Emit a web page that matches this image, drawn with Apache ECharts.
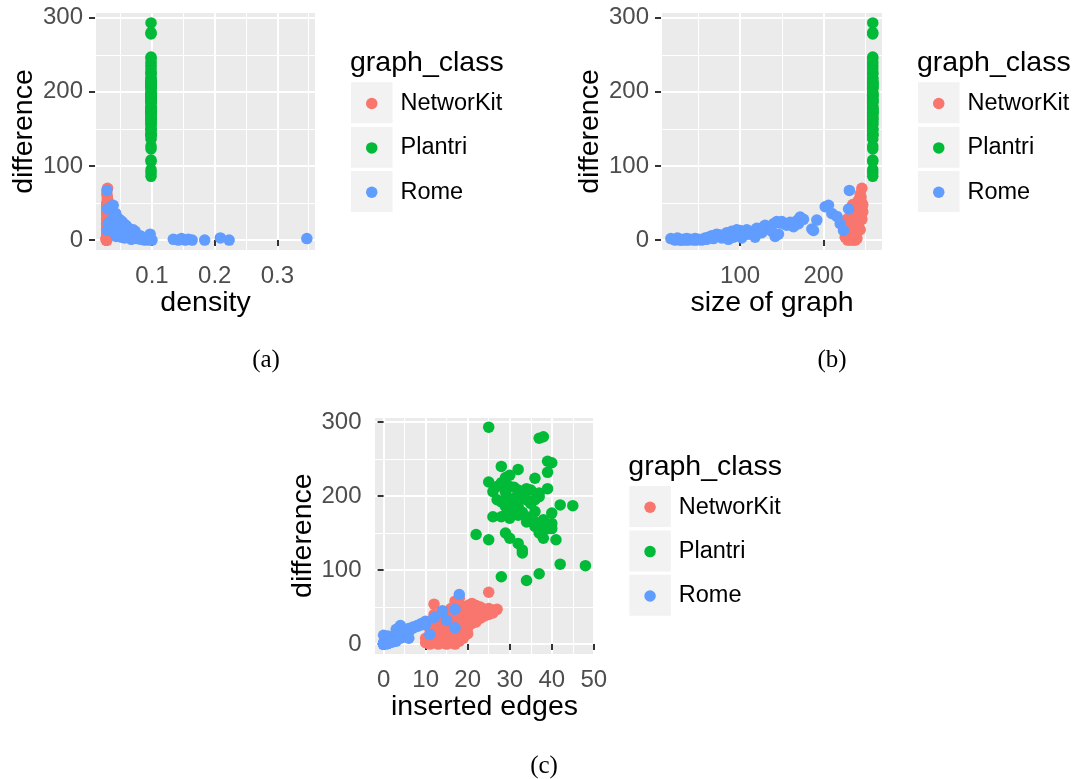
<!DOCTYPE html>
<html><head><meta charset="utf-8">
<script src="https://cdn.jsdelivr.net/npm/echarts@6/dist/echarts.min.js"></script>
<style>html,body{margin:0;padding:0;background:#fff}#c{width:1073px;height:779px}</style>
</head><body><div id="c"></div>
<script>
// ---------------- data ----------------
const classes = ['NetworKit', 'Plantri', 'Rome'];
const classColors = ['#F8766D', '#00BA38', '#619CFF'];

// NetworKit graphs (one entry per graph)
const netInserted = [10,10,11,11,11,12,12,12,12,13,13,13,13,14,14,14,14,15,15,15,15,15,16,16,16,16,17,17,17,17,18,18,18,18,18,19,19,19,19,20,20,20,20,21,21,21,22,22,22,23,23,24,24,25,25,25,26,26,27,19,20,12,16,21,23];
const netDiff     = [2,8,0,12,20,3,54,28,40,0,6,15,33,2,10,22,36,0,4,18,28,42,2,12,25,38,0,8,30,58,4,20,35,45,62,15,28,40,50,22,33,45,52,28,38,48,30,40,52,35,44,38,47,70,40,48,42,46,47,8,14,18,48,55,50];
const netSize     = [228,230,232,229,231,236,242,233,238,238,234,227,235,240,237,230,236,236,232,242,228,240,234,240,236,233,229,239,241,245,226,234,243,237,244,237,246,239,242,231,245,241,243,240,247,235,242,244,245,244,246,246,243,246,239,247,244,242,245,236,244,232,246,244,240];
const netDensity  = [0.0275,0.028,0.027,0.029,0.028,0.0275,0.029,0.028,0.0285,0.027,0.028,0.0285,0.029,0.027,0.028,0.0275,0.0285,0.028,0.0275,0.029,0.028,0.0285,0.027,0.028,0.0285,0.028,0.0275,0.028,0.029,0.0285,0.028,0.0285,0.028,0.029,0.028,0.0275,0.028,0.0285,0.029,0.028,0.0285,0.028,0.029,0.028,0.0285,0.028,0.029,0.028,0.0285,0.028,0.029,0.0285,0.028,0.029,0.028,0.0285,0.028,0.029,0.0285,0.028,0.0285,0.029,0.028,0.029,0.0285];

// Plantri graphs: all share one density and one size
const plantriDensity = 0.0984;
const plantriSize = 259;
const plantriInserted = [25,37,38,28,32,39,40,39,25,36,26,28,30,32,33,34,35,37,37,39,29,30,28,27,29,31,34,35,36,27,28,29,30,31,32,45,42,26,28,29,30,32,34,36,38,40,40,29,31,33,31,36,37,39,40,34,36,22,25,29,30,32,33,33,38,41,37,42,48,28,34,37];
const plantriDiff     = [293,278,280,240,236,247,245,232,219,224,206,215,213,208,199,210,208,204,199,210,225,228,218,213,205,212,195,190,195,195,192,195,190,197,186,187,188,172,172,174,170,174,172,179,168,163,177,186,182,178,177,159,161,156,156,165,165,148,141,150,143,136,127,123,143,141,150,108,106,91,86,95];

// Rome graphs
const romeSize     = [17,22,25,28,30,32,34,36,38,40,44,46,50,54,58,62,66,70,72,76,80,84,88,90,94,96,100,104,108,112,116,120,124,128,130,134,136,140,142,144,148,150,154,156,160,164,168,170,172,176,186,188,192,202,206,210,216,220,224,230,231,48,60,68,78,86,92,98,102,110,118,126,138,146];
const romeDensity  = [0.347,0.223,0.209,0.184,0.164,0.158,0.153,0.147,0.142,0.134,0.100,0.097,0.092,0.088,0.085,0.080,0.081,0.075,0.097,0.072,0.070,0.068,0.066,0.073,0.062,0.070,0.057,0.064,0.060,0.052,0.050,0.062,0.058,0.060,0.058,0.054,0.048,0.055,0.043,0.052,0.046,0.033,0.046,0.036,0.050,0.035,0.045,0.040,0.044,0.047,0.033,0.032,0.049,0.035,0.038,0.042,0.040,0.030,0.029,0.029,0.028,0.095,0.082,0.076,0.071,0.067,0.063,0.059,0.056,0.054,0.051,0.047,0.044,0.042];
const romeInserted = [0,0,1,0,0,1,0,1,0,1,0,1,1,0,1,2,2,1,2,3,2,1,2,0,1,4,3,2,5,4,3,5,4,6,4,6,4,7,2,8,7,4,6,3,8,6,9,7,10,9,5,4,10,14,17,12,15,17,11,14,18,0,1,1,2,1,3,2,2,4,2,5,4,6];
const romeDiff     = [2,0,3,0,0,1,0,2,0,1,0,2,1,0,3,4,6,5,8,7,6,10,9,12,11,14,13,10,14,12,9,16,15,18,20,17,14,22,5,25,23,25,21,20,24,18,26,22,31,28,15,13,27,45,47,36,32,22,13,42,67,0,1,2,3,1,4,6,3,8,4,10,12,8];

// axes: ranges (with ggplot expansion) and tick labels
const diffRange = [-14.7, 307.7];
const densityRange = [0.009, 0.3616];
const sizeRange = [5.2, 271.3];
const insertedRange = [-2.4, 50.4];
const diffTicks = [0, 100, 200, 300];
const densityTicks = [0.1, 0.2, 0.3];
const sizeTicks = [100, 200];
const insertedTicks = [0, 10, 20, 30, 40, 50];

// ---------------- layout ----------------
const SANS = 'Liberation Sans';
const TICK_FS = 24, TITLE_FS = 28.5;
const panels = [
  {grid:{left:95, top:12, width:221, height:239}, xRange:densityRange, xTicks:densityTicks, xMinorSplit:7, xMajorSplit:4,
   xName:'density', legend:{x:351, y:82.3}, caption:{text:'(a)', x:266, y:360}},
  {grid:{left:661, top:12, width:222, height:239}, xRange:sizeRange, xTicks:sizeTicks, xMinorSplit:5, xMajorSplit:3,
   xName:'size of graph', legend:{x:918, y:82.3}, caption:{text:'(b)', x:832, y:360}},
  {grid:{left:373.5, top:416.3, width:222, height:238.7}, xRange:insertedRange, xTicks:insertedTicks, xMinorSplit:10, xMajorSplit:5,
   xName:'inserted edges', legend:{x:629.3, y:486}, caption:{text:'(c)', x:544, y:766}}
];

function pairs(xs, ys) { return ys.map((y, i) => [Array.isArray(xs) ? xs[i] : xs, y]); }
const panelData = [
  [pairs(netDensity, netDiff), pairs(plantriDensity, plantriDiff), pairs(romeDensity, romeDiff)],
  [pairs(netSize, netDiff), pairs(plantriSize, plantriDiff), pairs(romeSize, romeDiff)],
  [pairs(netInserted, netDiff), pairs(plantriInserted, plantriDiff), pairs(romeInserted, romeDiff)]
];

const grid = [], xAxis = [], yAxis = [], series = [], legend = [], graphic = [];
const KEY = 41, KEY_STEP = 44.4, DOT = 11.5;
const hidden = {axisLine:{show:false}, axisTick:{show:false}, axisLabel:{show:false}};

function gridAxis(gi, range, split, width, z, pos) {
  return Object.assign({gridIndex:gi, type:'value', min:range[0], max:range[1], splitNumber:split, position:pos, z:z,
    splitLine:{show:true, lineStyle:{color:'#FFFFFF', width:width}}}, hidden);
}

panels.forEach((p, gi) => {
  grid.push(Object.assign({show:true, backgroundColor:'#EBEBEB', borderWidth:0, z:0}, p.grid));
  // x: minor grid, major grid, labelled axis
  xAxis.push(gridAxis(gi, p.xRange, p.xMinorSplit, 1, 1, 'top'));
  xAxis.push(gridAxis(gi, p.xRange, p.xMajorSplit, 2, 1, 'top'));
  xAxis.push({gridIndex:gi, type:'value', min:p.xRange[0], max:p.xRange[1], splitNumber:p.xMajorSplit, position:'bottom', z:2,
    axisLine:{show:false},
    axisTick:{show:true, length:6, lineStyle:{color:'#333333', width:2}, customValues:p.xTicks},
    axisLabel:{show:true, margin:13, color:'#4D4D4D', fontSize:TICK_FS, fontFamily:SANS, customValues:p.xTicks},
    splitLine:{show:false},
    name:p.xName, nameLocation:'middle', nameGap:37,
    nameTextStyle:{color:'#000', fontSize:TITLE_FS, fontFamily:SANS}});
  // y
  yAxis.push(gridAxis(gi, diffRange, 6, 1, 1, 'right'));
  yAxis.push(gridAxis(gi, diffRange, 3, 2, 1, 'right'));
  yAxis.push({gridIndex:gi, type:'value', min:diffRange[0], max:diffRange[1], splitNumber:3, position:'left', z:2,
    axisLine:{show:false},
    axisTick:{show:true, length:6, lineStyle:{color:'#333333', width:2}, customValues:diffTicks},
    axisLabel:{show:true, margin:12, color:'#4D4D4D', fontSize:TICK_FS, fontFamily:SANS, customValues:diffTicks},
    splitLine:{show:false},
    name:'difference', nameLocation:'middle', nameGap:56,
    nameTextStyle:{color:'#000', fontSize:TITLE_FS, fontFamily:SANS}});

  classes.forEach((c, ci) => {
    series.push({type:'scatter', name:c, xAxisIndex:gi*3+2, yAxisIndex:gi*3+2, data:panelData[gi][ci],
      symbol:'circle', symbolSize:DOT, itemStyle:{color:classColors[ci], opacity:1}, z:3, silent:true,
      emphasis:{disabled:true}});
  });

  // legend key backgrounds
  classes.forEach((c, ci) => {
    graphic.push({type:'rect', z:-1, shape:{x:p.legend.x, y:p.legend.y + ci*KEY_STEP, width:41.5, height:KEY},
      style:{fill:'#F2F2F2'}});
  });
  // legend title
  graphic.push({type:'text', x:p.legend.x - 1, y:p.legend.y - 19, style:{text:'graph_class', fill:'#000',
    font:TITLE_FS + 'px "' + SANS + '"', align:'left', verticalAlign:'middle'}});
  // caption
  graphic.push({type:'text', x:p.caption.x, y:p.caption.y, style:{text:p.caption.text, fill:'#000',
    font:'25px "Liberation Serif"', align:'center', verticalAlign:'middle'}});

  legend.push({orient:'vertical', left:p.legend.x + 20.75 - DOT/2, top:p.legend.y + KEY/2 - 22.25 - DOT/2 + 6.5,
    padding:0, itemGap:0, itemWidth:DOT, itemHeight:DOT, icon:'circle', data:classes.slice(), selectedMode:false,
    textStyle:{color:'#000', fontSize:23.5, fontFamily:SANS, lineHeight:KEY_STEP, padding:[0,0,0,18]}});
});

const chart = echarts.init(document.getElementById('c'), null, {renderer:'canvas'});
chart.setOption({animation:false, backgroundColor:'#FFFFFF', grid, xAxis, yAxis, series, legend,
  graphic:{elements:graphic}});
</script></body></html>
